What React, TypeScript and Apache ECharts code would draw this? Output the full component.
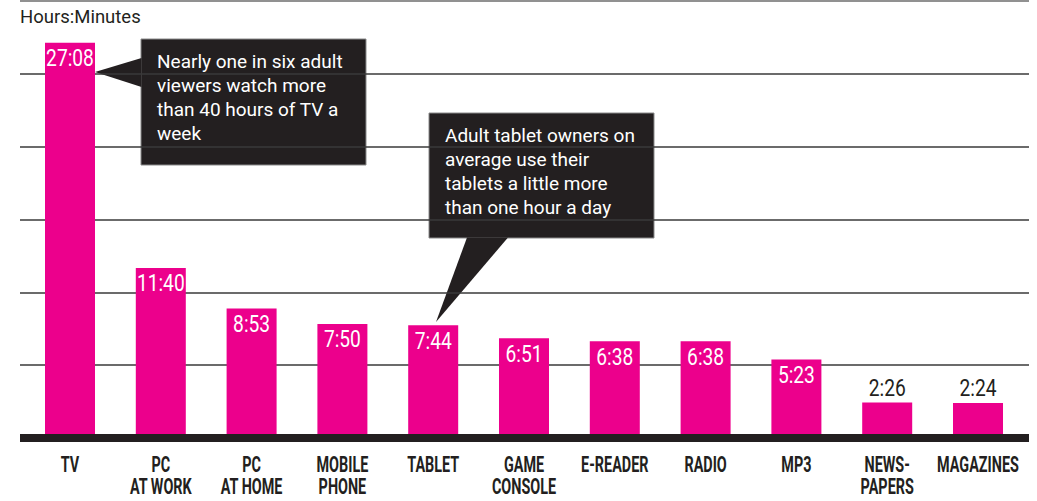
import React, { useEffect, useRef } from "react";
import * as echarts from "echarts";

const categories = [
  "TV",
  "PC\nAT WORK",
  "PC\nAT HOME",
  "MOBILE\nPHONE",
  "TABLET",
  "GAME\nCONSOLE",
  "E-READER",
  "RADIO",
  "MP3",
  "NEWS-\nPAPERS",
  "MAGAZINES",
];
const durations = ["27:08", "11:40", "8:53", "7:50", "7:44", "6:51", "6:38", "6:38", "5:23", "2:26", "2:24"];
const outsideLabel = [false, false, false, false, false, false, false, false, false, true, true];
const yTicks = [0, 5, 10, 15, 20, 25, 30];
const axisTitle = "Hours:Minutes";
const note1 = "Nearly one in six adult\nviewers watch more\nthan 40 hours of TV a\nweek";
const note2 = "Adult tablet owners on\naverage use their\ntablets a little more\nthan one hour a day";

const toHours = (s: string) => {
  const [h, m] = s.split(":").map(Number);
  return h + m / 60;
};

const MAGENTA = "#ec008c";
const DARK = "#231f20";
const FONT = "Roboto, 'Noto Sans', sans-serif";

export default function App() {
  const ref = useRef<HTMLDivElement>(null);
  useEffect(() => {
    if (!ref.current) return;
    const chart = echarts.init(ref.current, undefined, { renderer: "svg" });
    const yMin = yTicks[0];
    const yMax = yTicks[yTicks.length - 1];
    const yInt = yTicks[1] - yTicks[0];
    const lineColors = yTicks.map((v, i) =>
      i === 0 ? "transparent" : i === yTicks.length - 1 ? "#6d6d6d" : "#3a3a3a"
    );
    const hours = durations.map(toHours);

    const box = (x: number, y: number, w: number, h: number, tri: number[][], text: string) => ({
      type: "group",
      children: [
        { type: "rect", shape: { x, y, width: w, height: h }, style: { fill: DARK, stroke: "#8a8a8a", lineWidth: 1 } },
        { type: "polygon", shape: { points: tri }, style: { fill: DARK } },
        {
          type: "text",
          x: x + 16,
          y: y + 10,
          style: {
            text,
            fill: "#ffffff",
            fontSize: 19,
            fontFamily: FONT,
            lineHeight: 24,
            verticalAlign: "top",
            align: "left",
          },
        },
      ],
    });

    chart.setOption({
      animation: false,
      title: {
        text: axisTitle,
        left: 20,
        top: 8,
        padding: 0,
        textStyle: { fontFamily: FONT, fontSize: 18.5, fontWeight: "normal", color: DARK, lineHeight: 18.5 },
      },
      grid: [
        { left: 20, right: 8, top: 1, bottom: 63, containLabel: false },
        { left: 24.6, right: 13.6, top: 1, bottom: 63, containLabel: false },
      ],
      xAxis: [
        {
          type: "category",
          gridIndex: 0,
          data: [""],
          z: 5,
          axisLine: { show: true, lineStyle: { color: DARK, width: 8, cap: "butt" } },
          axisTick: { show: false },
          axisLabel: { show: false },
          splitLine: { show: false },
        },
        {
          type: "category",
          gridIndex: 1,
          data: categories,
          axisLine: { show: false },
          axisTick: { show: false },
          axisLabel: { show: false },
        },
      ],
      yAxis: [
        {
          type: "value",
          gridIndex: 0,
          min: yMin,
          max: yMax,
          interval: yInt,
          axisLine: { show: false },
          axisTick: { show: false },
          axisLabel: { show: false },
          splitLine: { show: true, lineStyle: { color: lineColors, width: 1.5, cap: "butt" } },
        },
        {
          type: "value",
          gridIndex: 1,
          min: yMin,
          max: yMax,
          interval: yInt,
          axisLine: { show: false },
          axisTick: { show: false },
          axisLabel: { show: false },
          splitLine: { show: false },
        },
      ],
      series: [
        {
          type: "bar",
          xAxisIndex: 1,
          yAxisIndex: 1,
          barWidth: 50,
          z: 1,
          itemStyle: { color: MAGENTA },
          data: hours,
        },
        {
          type: "custom",
          xAxisIndex: 1,
          yAxisIndex: 1,
          clip: false,
          z: 6,
          silent: true,
          data: hours.map((h, i) => [i, h]),
          encode: { x: 0, y: 1 },
          renderItem: (params: any, api: any) => {
            const i = params.dataIndex;
            const top = api.coord([api.value(0), api.value(1)]);
            const base = api.coord([api.value(0), 0]);
            const out = outsideLabel[i];
            return {
              type: "group",
              children: [
                {
                  type: "text",
                  x: top[0],
                  y: out ? top[1] - 3 : top[1] + 3,
                  scaleX: 0.8,
                  style: {
                    text: durations[i],
                    fill: out ? DARK : "#ffffff",
                    fontSize: 24,
                    lineHeight: 24,
                    fontFamily: FONT,
                    align: "center",
                    verticalAlign: out ? "bottom" : "top",
                  },
                },
                {
                  type: "text",
                  x: base[0],
                  y: base[1] + 15,
                  scaleX: 0.64,
                  style: {
                    text: categories[i],
                    fill: DARK,
                    fontSize: 22.5,
                    fontWeight: "bold",
                    lineHeight: 22,
                    fontFamily: FONT,
                    align: "center",
                    verticalAlign: "top",
                  },
                },
              ],
            };
          },
        },
      ],
      graphic: [
        box(141, 39, 225, 126, [[141.5, 58], [95, 72], [141.5, 87]], note1),
        box(429, 113, 225, 125, [[467, 237.5], [436, 322], [508, 237.5]], note2),
      ],
    });
    return () => chart.dispose();
  }, []);
  return <div ref={ref} style={{ width: 1037, height: 501, position: "absolute", left: 0, top: 0 }} />;
}
